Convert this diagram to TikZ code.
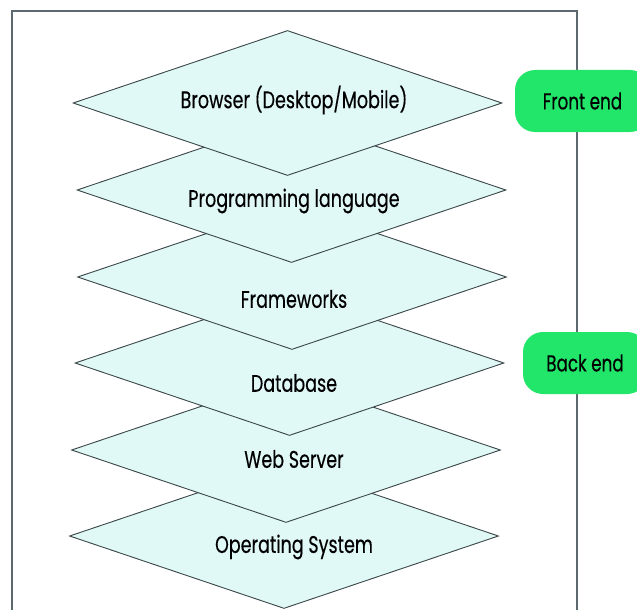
\documentclass[tikz,border=0pt]{standalone}
\usepackage{fontspec}
\setmainfont{Poppins}[FakeStretch=0.73, FakeBold=0.3]
\usetikzlibrary{shapes.geometric}

\definecolor{layerfill}{RGB}{224,248,246}
\definecolor{layerline}{RGB}{58,70,72}
\definecolor{frameline}{RGB}{92,106,112}
\definecolor{tagfill}{RGB}{34,230,106}

\begin{document}
\begin{tikzpicture}[
    x = 1pt, y = -1pt,
    layer/.style = {diamond,
      draw = layerline,
      fill = layerfill,
      line width = 0.9pt,
      minimum width = 429pt,
      minimum height = 145pt,
      inner sep = 0pt},
    caption/.style = {font = \fontsize{24}{28}\selectfont},
    tag/.style = {rectangle,
      rounded corners = 20pt,
      fill = tagfill,
      minimum height = 62pt,
      font = \fontsize{23}{27}\selectfont}
    ]
    \useasboundingbox (0, 0) rectangle (637, 610);
    \clip (0, 0) rectangle (637, 610);

    \draw [frameline, line width = 1.2pt] (12, 11) rectangle (577, 630);

    % stack, drawn from the bottom up
    \node at (284, 536) [layer, name = os] {};
    \node at (286, 450) [layer, name = server] {};
    \node at (289.5, 363) [layer, name = db] {};
    \node at (292, 277) [layer, name = fw] {};
    \node at (291.5, 190) [layer, name = lang] {};
    \node at (287.5, 103) [layer, name = browser] {};

    \node at (294, 100) [caption, name = browsertext] {Browser (Desktop/Mobile)};
    \node at (294, 201) [caption, name = langtext] {Programming language};
    \node at (294, 299) [caption, name = fwtext] {Frameworks};
    \node at (294, 383) [caption, name = dbtext] {Database};
    \node at (294, 459) [caption, name = servertext] {Web Server};
    \node at (294, 547) [caption, name = ostext] {Operating System};

    \node at (582.5, 101) [tag, minimum width = 135pt, name = front] {Front end};
    \node at (585, 363) [tag, minimum width = 124pt, name = back] {Back end};

  \end{tikzpicture}
\end{document}
